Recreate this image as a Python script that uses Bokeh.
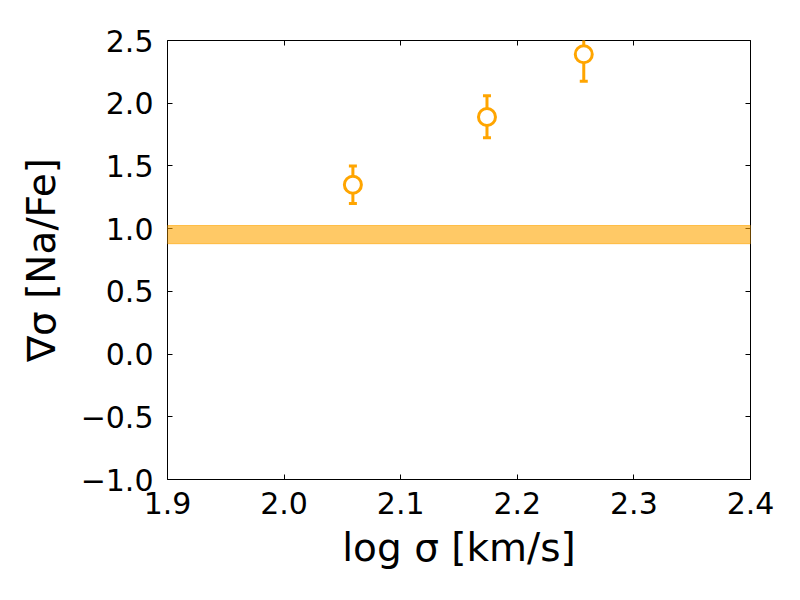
from bokeh.plotting import figure
from bokeh.models import (Range1d, Whisker, ColumnDataSource, BoxAnnotation, LinearAxis,
                          FixedTicker, CustomJSTickFormatter)
from bokeh.embed import file_html
from bokeh.resources import INLINE

# data
log_sigma = [2.059, 2.174, 2.257]
grad_na = [1.35, 1.89, 2.39]
err_low = [0.15, 0.165, 0.215]
err_high = [0.15, 0.17, 0.215]
band_low = 0.88
band_high = 1.025
x_ticks = [1.9, 2.0, 2.1, 2.2, 2.3, 2.4]
y_ticks = [-1.0, -0.5, 0.0, 0.5, 1.0, 1.5, 2.0, 2.5]

ORANGE = "#FFA500"
FONT = "DejaVu Sans"

p = figure(width=784, height=584, output_backend="svg", toolbar_location=None,
           x_range=Range1d(1.9, 2.4), y_range=Range1d(-1.0, 2.5),
           min_border_left=167, min_border_right=34, min_border_top=40, min_border_bottom=105)
p.grid.visible = False
p.outline_line_color = "black"
p.outline_line_width = 1
p.background_fill_color = "white"
p.border_fill_color = "white"

fmt = CustomJSTickFormatter(code="""
    const s = Math.abs(tick).toFixed(1);
    return (tick < -1e-9 ? "\u2212" : "") + s;
""")

def style(ax, labels=True):
    ax.major_tick_in = 5
    ax.major_tick_out = 0
    ax.minor_tick_in = 0
    ax.minor_tick_out = 0
    ax.axis_line_color = None
    ax.major_tick_line_color = "black"
    ax.major_label_text_font = FONT
    ax.major_label_text_font_size = "30px"
    ax.major_label_text_color = "black"
    ax.axis_label_text_font = FONT
    ax.axis_label_text_font_size = "39px"
    ax.axis_label_text_font_style = "normal"
    ax.axis_label_text_color = "black"
    if not labels:
        ax.major_label_text_font_size = "0px"
        ax.major_label_text_color = None

p.xaxis.ticker = FixedTicker(ticks=x_ticks)
p.yaxis.ticker = FixedTicker(ticks=y_ticks)
p.xaxis.formatter = fmt
p.yaxis.formatter = fmt
p.xaxis.axis_label = "log σ [km/s]"
p.yaxis.axis_label = "∇σ [Na/Fe]"
style(p.xaxis[0])
style(p.yaxis[0])
p.xaxis.major_label_standoff = 12
p.yaxis.major_label_standoff = 14
p.xaxis.axis_label_standoff = 8
p.yaxis.axis_label_standoff = 14

top = LinearAxis(ticker=FixedTicker(ticks=x_ticks))
right = LinearAxis(ticker=FixedTicker(ticks=y_ticks))
style(top, False)
style(right, False)
p.add_layout(top, "above")
p.add_layout(right, "right")

band = BoxAnnotation(bottom=band_low, top=band_high, fill_color=ORANGE, fill_alpha=0.6,
                     line_color=ORANGE, line_alpha=0.6, line_width=1)
p.add_layout(band)

src = ColumnDataSource(dict(
    x=log_sigma, y=grad_na,
    lo=[g - e for g, e in zip(grad_na, err_low)],
    hi=[g + e for g, e in zip(grad_na, err_high)],
))
w = Whisker(source=src, base="x", lower="lo", upper="hi", line_color=ORANGE, line_width=3)
w.upper_head.size = 8
w.lower_head.size = 8
w.upper_head.line_color = ORANGE
w.lower_head.line_color = ORANGE
w.upper_head.line_width = 3
w.lower_head.line_width = 3
p.add_layout(w)

p.scatter("x", "y", source=src, size=17, marker="circle", fill_color="white",
          line_color=ORANGE, line_width=3)

open("out.html", "w").write(file_html(p, INLINE))
